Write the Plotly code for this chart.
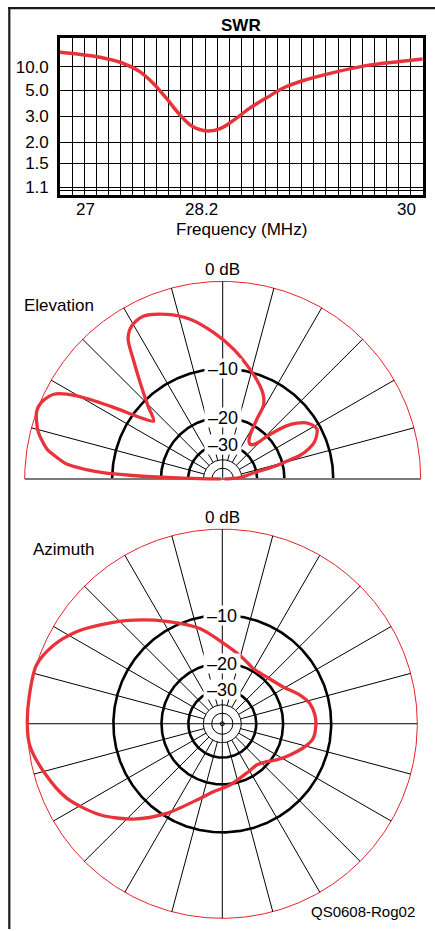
import numpy as np
import plotly.graph_objects as go

# ---------------- data ----------------
# SWR sweep
swr_freq = [27.0, 27.33, 27.52, 27.66, 27.77, 27.88, 27.98, 28.09, 28.22, 28.33,
            28.44, 28.57, 28.71, 28.86, 29.03, 29.26, 29.53, 29.81, 30.0]
swr_val = [21.2, 15.4, 11.5, 8.35, 5.95, 4.21, 3.17, 2.56, 2.37, 2.47,
           2.83, 3.47, 4.26, 5.38, 6.50, 8.09, 10.4, 12.4, 14.0]
swr_tick_vals = [1.1, 1.5, 2.0, 3.0, 5.0, 10.0]
swr_tick_text = ["1.1", "1.5", "2.0", "3.0", "5.0", "10.0"]
swr_extra_grid = [1.05]
freq_labels = [27, 28.2, 30]
freq_label_text = ["27", "28.2", "30"]

# Elevation pattern (deg from right horizon, dB)
elev_deg = [0, 1, 3, 5, 8, 11, 13, 14, 16, 17, 19.5, 22, 25, 28, 31, 34, 37, 39.8, 42,
            44.1, 45.8, 48.5, 52, 55, 57.8, 60.3, 61, 63.5, 66.6, 71, 76, 85, 93.6,
            101.5, 108.7, 116, 120.7, 124, 126.7, 130.5, 135.5, 140, 143.3, 147,
            150.3, 153.3, 157, 160, 163, 165.8, 170.3, 172, 174.5, 176, 177, 177.8,
            178.4, 179.2, 180]
elev_db = [-80, -63.1, -49.6, -42.1, -36.2, -31.8, -25.4, -21.7, -17.8, -15.3, -13.2,
           -11.9, -11.1, -10.6, -10.9, -11.6, -13.0, -14.9, -17.4, -20.2, -23.3, -25.1,
           -25.7, -25.1, -23.3, -18.1, -14.7, -13.2, -12.1, -10.9, -9.6, -7.2, -5.1,
           -3.3, -2.2, -1.5, -1.8, -2.7, -4.8, -7.6, -10.9, -13.5, -11.2, -6.7,
           -2.8, -0.8, -0.1, 0.0, -0.3, -0.7, -1.8, -2.6, -4.0, -6.2, -8.6, -13.5,
           -21.7, -37.7, -80]

# Azimuth pattern (deg, math convention, dB)
azim_deg = [180, 172, 162.5, 155, 147.7, 140.9, 130.6, 118.5, 103.2, 86.9, 72.2, 60.7,
            46.7, 31.2, 20.3, 13, 5.4, -0.8, -9.2, -15.5, -24.8, -33.8, -40.6, -50.3,
            -61.6, -82.8, -97.5, -106.6, -121.8, -132.9, -143.3, -154.4, -165, -173.7, -180]
azim_db = [0.0, 0.0, 0.0, -0.8, -2.1, -3.7, -6.1, -8.8, -11.8, -15.6, -17.9, -19.3,
           -19.0, -17.3, -14.7, -13.3, -12.7, -12.6, -12.9, -14.1, -16.5, -18.8, -20.7, -22.1,
           -21.8, -19.7, -17.9, -15.7, -10.5, -6.9, -4.2, -2.1, -0.9, -0.1, 0.0]

# Polar grid definition
ring_major_db = [-10, -20, -30]
ring_minor_db = [-40, -50]
ring_labels = ["\u201310", "\u201320", "\u201330"]
spoke_step = 15
spoke_inner_db = -40

# ---------------- styles ----------------
W, H = 435, 931
RED = "#e8333b"
FONT = "Liberation Sans, Arial, sans-serif"


def px_x(p):
    return p / W


def px_y(p):
    return 1 - p / H


def gam(s):
    s = np.asarray(s, float)
    return (s - 1) / (s + 1)


def rad(db):
    return 0.89 ** (-np.asarray(db, float) / 2)


def xy(deg, r):
    t = np.radians(np.asarray(deg, float))
    return r * np.cos(t), r * np.sin(t)


fig = go.Figure()

# ---------------- SWR chart ----------------
fig.add_trace(go.Scatter(x=swr_freq, y=gam(swr_val), mode="lines",
                         line=dict(color=RED, width=3.5, shape="spline", smoothing=1),
                         xaxis="x", yaxis="y", hoverinfo="skip"))

xgrid = np.round(np.arange(27.0, 30.0001, 0.1), 1)
ygrid_vals = list(gam(swr_tick_vals)) + list(gam(swr_extra_grid))
ygrid_text = swr_tick_text + ["" for _ in swr_extra_grid]


# ---------------- polar helpers ----------------
def add_polar_grid(xa, ya, full):
    t = np.linspace(0, 360 if full else 180, 721 if full else 361)
    x, y = xy(t, 1.0)
    fig.add_trace(go.Scatter(x=x, y=y, mode="lines", line=dict(color="#e8202a", width=1),
                             xaxis=xa, yaxis=ya, hoverinfo="skip"))
    sx, sy = [], []
    angles = np.arange(0, 360 if full else 181, spoke_step)
    for a in angles:
        if not full and a in (0, 180):
            continue
        r0 = 0.0 if a % 90 == 0 else float(rad(spoke_inner_db))
        x0, y0 = xy(a, r0)
        x1, y1 = xy(a, 1.0)
        sx += [x0, x1, None]
        sy += [y0, y1, None]
    fig.add_trace(go.Scatter(x=sx, y=sy, mode="lines", line=dict(color="black", width=1),
                             xaxis=xa, yaxis=ya, hoverinfo="skip"))
    for d in ring_minor_db:
        x, y = xy(t, float(rad(d)))
        fig.add_trace(go.Scatter(x=x, y=y, mode="lines", line=dict(color="black", width=1),
                                 xaxis=xa, yaxis=ya, hoverinfo="skip"))
    for d in ring_major_db:
        x, y = xy(t, float(rad(d)))
        fig.add_trace(go.Scatter(x=x, y=y, mode="lines", line=dict(color="black", width=2.6),
                                 xaxis=xa, yaxis=ya, hoverinfo="skip"))


# ---------------- Elevation ----------------
add_polar_grid("x2", "y2", full=False)
fig.add_trace(go.Scatter(x=[-1, 1], y=[0, 0], mode="lines", line=dict(color="#7a7a7a", width=2),
                         xaxis="x2", yaxis="y2", hoverinfo="skip"))
ex, ey = xy(elev_deg, rad(elev_db))
fig.add_trace(go.Scatter(x=ex, y=ey, mode="lines",
                         line=dict(color=RED, width=3.3, shape="spline", smoothing=0.8),
                         xaxis="x2", yaxis="y2", hoverinfo="skip"))

# ---------------- Azimuth ----------------
add_polar_grid("x3", "y3", full=True)
fig.add_trace(go.Scatter(x=[0], y=[0], mode="markers",
                         marker=dict(symbol="circle-open", size=4, color="black", line=dict(width=1)),
                         xaxis="x3", yaxis="y3", hoverinfo="skip"))
ax_, ay_ = xy(azim_deg, rad(azim_db))
fig.add_trace(go.Scatter(x=ax_, y=ay_, mode="lines",
                         line=dict(color=RED, width=3.3, shape="spline", smoothing=0.8),
                         xaxis="x3", yaxis="y3", hoverinfo="skip"))

# ---------------- annotations ----------------
TXT = dict(size=17, family=FONT, color="black")
ann = []
ann.append(dict(text="<b>SWR</b>", x=px_x(241), y=px_y(25.5), xref="paper", yref="paper",
                xanchor="center", yanchor="middle", showarrow=False, font=TXT))
shifts = {"27": ("left", 14), "28.2": ("center", -4), "30": ("right", -5)}
for v, t in zip(freq_labels, freq_label_text):
    anchor, sh = shifts[t]
    ann.append(dict(text=t, x=v, xref="x", y=px_y(209.5), yref="paper", xanchor=anchor,
                    yanchor="middle", xshift=sh, showarrow=False, font=TXT))
ann.append(dict(text="Frequency (MHz)", x=0.5, xref="x domain", y=px_y(230), yref="paper",
                xanchor="center", yanchor="middle", showarrow=False, font=TXT))

for xa, ya in (("x2", "y2"), ("x3", "y3")):
    ann.append(dict(text="0 dB", x=0, y=1, xref=xa, yref=ya, xanchor="center",
                    yanchor="bottom", yshift=0, showarrow=False, font=TXT))
    for d, lab in zip(ring_major_db, ring_labels):
        ann.append(dict(text=lab, x=0, y=float(rad(d)), xref=xa, yref=ya, showarrow=False,
                        xanchor="center", yanchor="middle",
                        bgcolor="white", width=36, height=19, borderpad=0,
                        font=dict(size=18, family=FONT, color="black")))

ann.append(dict(text="Elevation", x=px_x(21.5), y=px_y(306.5), xref="paper", yref="paper",
                xanchor="left", yanchor="middle", showarrow=False, font=TXT))
ann.append(dict(text="Azimuth", x=px_x(30.5), y=px_y(550.5), xref="paper", yref="paper",
                xanchor="left", yanchor="middle", showarrow=False, font=TXT))
ann.append(dict(text="QS0608-Rog02", x=px_x(416.5), y=px_y(913.5), xref="paper", yref="paper",
                xanchor="right", yanchor="middle", showarrow=False,
                font=dict(size=15, family=FONT, color="black")))

# frame lines
shapes = [
    dict(type="line", xref="paper", yref="paper", x0=px_x(9.3), x1=px_x(9.3),
         y0=px_y(7.3), y1=0, line=dict(color="#1a1a1a", width=2.2)),
    dict(type="line", xref="paper", yref="paper", x0=px_x(8.2), x1=1,
         y0=px_y(8.2), y1=px_y(8.2), line=dict(color="#1a1a1a", width=2.2)),
]

# ---------------- layout ----------------
el_c, el_R = (222.7, 480.0), 198.0
az_c, az_R = (222.3, 725.3), 195.0
el_top, el_bot = 255.0, 490.0
az_top, az_bot = 505.0, 931.0

fig.update_layout(
    width=W, height=H, margin=dict(l=0, r=0, t=0, b=0),
    paper_bgcolor="white", plot_bgcolor="white", showlegend=False,
    font=dict(family=FONT, size=17, color="black"),
    annotations=ann, shapes=shapes,
    xaxis=dict(domain=[px_x(60), px_x(422.7)], range=[27.0, 30.0],
               tickmode="array", tickvals=xgrid, showticklabels=False, ticks="",
               showgrid=True, gridcolor="black", gridwidth=1,
               showline=True, linecolor="black", linewidth=2.6, mirror=True,
               zeroline=False, fixedrange=True),
    yaxis=dict(domain=[px_y(195), px_y(38.3)], range=[0, 1],
               tickmode="array", tickvals=ygrid_vals, ticktext=ygrid_text,
               ticks="outside", ticklen=5, tickcolor="rgba(0,0,0,0)",
               tickfont=TXT,
               showgrid=True, gridcolor="black", gridwidth=1,
               showline=True, linecolor="black", linewidth=2.6, mirror=True,
               zeroline=False, fixedrange=True),
    xaxis2=dict(domain=[0, 1], range=[(0 - el_c[0]) / el_R, (W - el_c[0]) / el_R],
                visible=False, fixedrange=True),
    yaxis2=dict(domain=[px_y(el_bot), px_y(el_top)],
                range=[(el_c[1] - el_bot) / el_R, (el_c[1] - el_top) / el_R],
                visible=False, fixedrange=True),
    xaxis3=dict(domain=[0, 1], range=[(0 - az_c[0]) / az_R, (W - az_c[0]) / az_R],
                visible=False, fixedrange=True),
    yaxis3=dict(domain=[px_y(az_bot), px_y(az_top)],
                range=[(az_c[1] - az_bot) / az_R, (az_c[1] - az_top) / az_R],
                visible=False, fixedrange=True),
)

fig.write_html("out.html", config={"displayModeBar": False},
               post_script="document.body.style.margin='0';document.body.style.padding='0';"
                           "document.body.style.overflow='hidden';")
